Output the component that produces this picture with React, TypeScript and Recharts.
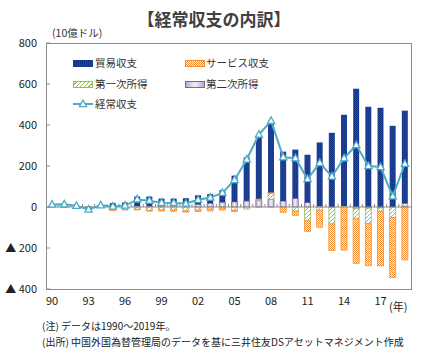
import React from 'react';
import { ComposedChart, Bar, Line, XAxis, YAxis, ReferenceLine } from 'recharts';

const years = [
  1990, 1991, 1992, 1993, 1994, 1995, 1996, 1997, 1998, 1999,
  2000, 2001, 2002, 2003, 2004, 2005, 2006, 2007, 2008, 2009,
  2010, 2011, 2012, 2013, 2014, 2015, 2016, 2017, 2018, 2019,
];
// 貿易収支
const trade = [9, 9, 5, -11, 7, 18, 20, 46, 47, 36, 35, 34, 44, 45, 59, 128, 212, 308, 336, 241, 238, 233, 311, 362, 445, 577, 489, 484, 396, 453];
// サービス収支
const services = [2, 2, 0, -1, 0, -6, -2, -3, -3, -5, -6, -6, -7, -9, -10, -6, 2, 3, 3, -26, -20, -52, -83, -129, -210, -217, -205, -266, -292, -258];
// 第一次所得
const primary = [1, 1, 0, -1, -1, -12, -12, -11, -17, -15, -15, -19, -15, -10, -5, -16, -10, 4, 31, 0, -21, -67, -16, -80, 5, -50, -75, -16, -50, 12];
// 第二次所得
const secondary = [0, 1, 1, 1, 1, 1, 2, 5, 4, 5, 6, 9, 13, 18, 23, 25, 28, 33, 37, 29, 42, 22, 4, -3, 0, -8, -6, -5, -2, 5];
// 経常収支
const current = [12, 13, 6, -12, 8, 2, 7, 37, 31, 21, 20, 17, 35, 46, 69, 132, 232, 353, 420, 243, 238, 136, 215, 149, 238, 302, 200, 195, 52, 211];

const yTicks = [-400, -200, 0, 200, 400, 600, 800];

const data = years.map((y, i) => ({
  year: y,
  trade: trade[i],
  services: services[i],
  primary: primary[i],
  secondary: secondary[i],
  current: current[i],
}));

const FONT = "'Noto Sans CJK JP', 'Noto Sans', sans-serif";
const LINE_COLOR = '#4BACC6';

const fmtY = (v: number) => (v < 0 ? `▲ ${-v}` : `${v}`);

const YTick = (props: any) => {
  const { x, y, payload } = props;
  return (
    <g>
      <line x1={x + 9} x2={x + 13} y1={y} y2={y} stroke="#8c8c8c" />
      <text x={x} y={y} dy={4} textAnchor="end" fontSize={11} fill="#222" fontFamily={FONT}>
        {fmtY(payload.value)}
      </text>
    </g>
  );
};

// zero line with small category ticks pointing up
const ZeroAxis = (props: any) => {
  const { x1, y1, x2 } = props;
  const n = years.length;
  const step = (x2 - x1) / n;
  const ticks = [];
  for (let i = 1; i < n; i++) {
    const x = x1 + i * step;
    ticks.push(<line key={i} x1={x} x2={x} y1={y1} y2={y1 - 3} stroke="#8c8c8c" />);
  }
  return (
    <g>
      <line x1={x1} x2={x2} y1={y1} y2={y1} stroke="#8c8c8c" strokeWidth={1.2} />
      {ticks}
    </g>
  );
};

const TriangleDot = (props: any) => {
  const { cx, cy, index } = props;
  if (cx == null || cy == null) return <g key={index} />;
  return (
    <polygon
      key={index}
      points={`${cx},${cy - 4} ${cx - 3.6},${cy + 2.6} ${cx + 3.6},${cy + 2.6}`}
      fill="#fff"
      stroke={LINE_COLOR}
      strokeWidth={1.3}
    />
  );
};

const legendText: React.CSSProperties = {
  position: 'absolute',
  fontSize: 10.5,
  color: '#333',
  lineHeight: '14px',
  whiteSpace: 'nowrap',
};

const Swatch = ({ left, top, bg, border }: { left: number; top: number; bg: string; border: string }) => (
  <div
    style={{
      position: 'absolute',
      left,
      top,
      width: 20,
      height: 7,
      boxSizing: 'border-box',
      border: `1px solid ${border}`,
      background: bg,
    }}
  />
);

export default function App() {
  return (
    <div
      style={{
        position: 'absolute',
        left: 0,
        top: 0,
        width: 428,
        height: 354,
        background: '#fff',
        fontFamily: FONT,
        overflow: 'hidden',
      }}
    >
      <div
        style={{
          position: 'absolute',
          left: 0,
          width: 428,
          top: 8,
          textAlign: 'center',
          fontSize: 17,
          fontWeight: 'bold',
          color: '#404040',
          lineHeight: '22px',
        }}
      >
        【経常収支の内訳】
      </div>
      <div style={{ position: 'absolute', left: 52, top: 26, fontSize: 10.5, color: '#333', lineHeight: '14px' }}>
        (10億ドル)
      </div>

      <div style={{ position: 'absolute', left: 0, top: 0 }}>
        <ComposedChart
          width={428}
          height={354}
          data={data}
          stackOffset="sign"
          margin={{ top: 43, right: 17, bottom: 35, left: 0 }}
        >
          <defs>
            <pattern id="pTrade" width="2" height="2" patternUnits="userSpaceOnUse">
              <rect width="2" height="2" fill="#1B48A8" />
              <rect width="1" height="1" fill="#0C2F86" />
              <rect x="1" y="1" width="1" height="1" fill="#123C98" />
            </pattern>
            <pattern id="pServ" width="2" height="2" patternUnits="userSpaceOnUse">
              <rect width="2" height="2" fill="#fff" />
              <rect width="1" height="1" fill="#F58A2E" />
              <rect x="1" y="1" width="1" height="1" fill="#F58A2E" />
            </pattern>
            <pattern id="pPrim" width="4" height="4" patternUnits="userSpaceOnUse">
              <rect width="4" height="4" fill="#fff" />
              <path d="M0,4 L4,0 M-1,1 L1,-1 M3,5 L5,3" stroke="#9BBB59" strokeWidth="1" />
            </pattern>
            <linearGradient id="gSec" x1="0" x2="1" y1="0" y2="0">
              <stop offset="0" stopColor="#B9A9D3" />
              <stop offset="0.5" stopColor="#F2EEF8" />
              <stop offset="1" stopColor="#B9A9D3" />
            </linearGradient>
          </defs>
          <XAxis
            dataKey="year"
            height={30}
            axisLine={false}
            tickLine={false}
            tickSize={0}
            tickMargin={8}
            interval={2}
            tickFormatter={(v: number) => String(v).slice(2)}
            tick={{ fontSize: 11, fill: '#222', fontFamily: FONT }}
          />
          <YAxis
            width={46}
            domain={[-400, 800]}
            ticks={yTicks}
            axisLine={false}
            tickLine={false}
            tickSize={0}
            tickMargin={9}
            tick={<YTick />}
          />
          <Bar dataKey="secondary" stackId="a" barSize={6} fill="url(#gSec)" stroke="#8064A2" strokeWidth={0.8} isAnimationActive={false} />
          <Bar dataKey="primary" stackId="a" barSize={6} fill="url(#pPrim)" stroke="#9BBB59" strokeWidth={0.8} isAnimationActive={false} />
          <Bar dataKey="services" stackId="a" barSize={6} fill="url(#pServ)" stroke="#F58A2E" strokeWidth={0.8} isAnimationActive={false} />
          <Bar dataKey="trade" stackId="a" barSize={6} fill="url(#pTrade)" isAnimationActive={false} />
          <ReferenceLine y={0} shape={<ZeroAxis />} />
          <Line
            dataKey="current"
            type="linear"
            stroke={LINE_COLOR}
            strokeWidth={2}
            dot={TriangleDot}
            isAnimationActive={false}
          />
        </ComposedChart>
      </div>

      {/* plot frame */}
      <div
        style={{
          position: 'absolute',
          left: 46,
          top: 43,
          width: 366,
          height: 247,
          boxSizing: 'border-box',
          border: '1px solid #8c8c8c',
          pointerEvents: 'none',
        }}
      />

      {/* legend */}
      <Swatch left={73} top={60} bg="repeating-linear-gradient(90deg,#0C2F86 0 1px,#1B48A8 1px 2px)" border="#123C98" />
      <div style={{ ...legendText, left: 95, top: 56 }}>貿易収支</div>
      <Swatch left={185} top={60} bg="repeating-conic-gradient(#F58A2E 0 25%, #fff 0 50%) 0 0/2px 2px" border="#F58A2E" />
      <div style={{ ...legendText, left: 206, top: 56 }}>サービス収支</div>
      <Swatch left={73} top={81} bg="repeating-linear-gradient(-45deg,#fff 0 2px,#9BBB59 2px 3px)" border="#9BBB59" />
      <div style={{ ...legendText, left: 95, top: 77 }}>第一次所得</div>
      <Swatch left={185} top={81} bg="linear-gradient(90deg,#B9A9D3,#F2EEF8,#B9A9D3)" border="#8064A2" />
      <div style={{ ...legendText, left: 206, top: 77 }}>第二次所得</div>
      <svg style={{ position: 'absolute', left: 72, top: 98 }} width={22} height={12}>
        <line x1={1} x2={21} y1={6} y2={6} stroke={LINE_COLOR} strokeWidth={2} />
        <polygon points="11,2 7.4,8.6 14.6,8.6" fill="#fff" stroke={LINE_COLOR} strokeWidth={1.3} />
      </svg>
      <div style={{ ...legendText, left: 95, top: 97 }}>経常収支</div>

      <div style={{ position: 'absolute', left: 389, top: 299, fontSize: 11, color: '#222', lineHeight: '14px' }}>(年)</div>

      <div style={{ position: 'absolute', left: 42, top: 318, fontSize: 10, color: '#222', lineHeight: '16px', whiteSpace: 'nowrap' }}>
        (注) データは1990～2019年。
        <br />
        (出所) 中国外国為替管理局のデータを基に三井住友DSアセットマネジメント作成
      </div>
    </div>
  );
}
